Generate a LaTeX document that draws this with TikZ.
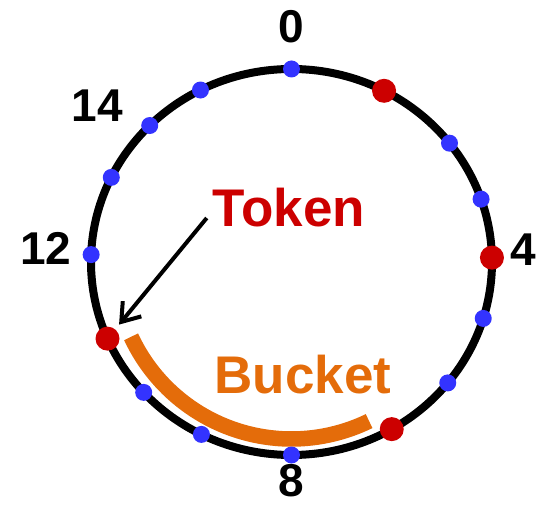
\documentclass[tikz,border=0pt]{standalone}
\usepackage{fontspec}
\setmainfont{Liberation Sans}
\usetikzlibrary{shapes.geometric, arrows.meta, positioning}
\definecolor{dotblue}{HTML}{3333FF}
\definecolor{tokred}{HTML}{CC0000}
\definecolor{bktorange}{HTML}{E46C0A}
\tikzstyle{bluedot} = [circle, fill=dotblue, minimum size=17pt, inner sep=0pt]
\tikzstyle{reddot} = [circle, fill=tokred, minimum size=24pt, inner sep=0pt]
\tikzstyle{num} = [font=\fontsize{46}{46}\selectfont\bfseries, inner sep=0pt]
\tikzstyle{word} = [font=\fontsize{53}{53}\selectfont\bfseries, inner sep=6pt]
\tikzstyle{ring} = [line width=8pt]
\tikzstyle{bucketarc} = [line width=15.5pt, draw=bktorange]
\tikzstyle{arrow} = [line width=4pt, -{Straight Barb[length=17pt, width=24pt]}, shorten >=6pt]

\begin{document}
\begin{tikzpicture}[x=1pt, y=1pt]

\useasboundingbox (-291.5,-243) rectangle (251.5,262);

\draw [ring] (0,0) ellipse [x radius=200.5, y radius=193];
\draw [bucketarc] (205:177) arc [start angle=205, end angle=296, radius=177];

\node (p0) [bluedot] at (90:200.5 and 193) {};
\node (p1) [reddot] at (62.5:200.5 and 193) {};
\node (p2) [bluedot] at (38:200.5 and 193) {};
\node (p3) [bluedot] at (19:200.5 and 193) {};
\node (p4) [reddot] at (1.3:200.5 and 193) {};
\node (p5) [bluedot] at (-17:200.5 and 193) {};
\node (p6) [bluedot] at (-38.8:200.5 and 193) {};
\node (p7) [reddot] at (-60:200.5 and 193) {};
\node (p8) [bluedot] at (-90:200.5 and 193) {};
\node (p9) [bluedot] at (-116.7:200.5 and 193) {};
\node (p10) [bluedot] at (-137.5:200.5 and 193) {};
\node (p11) [reddot] at (-156.6:200.5 and 193) {};
\node (p12) [bluedot] at (177.8:200.5 and 193) {};
\node (p13) [bluedot] at (154:200.5 and 193) {};
\node (p14) [bluedot] at (135:200.5 and 193) {};
\node (p15) [bluedot] at (117:200.5 and 193) {};

\node (lbl0) [num, above=17pt of p0] {0};
\node (lbl4) [num, right=6pt of p4, yshift=8pt] {4};
\node (lbl8) [num, below=0.5pt of p8] {8};
\node (lbl12) [num, left=11pt of p12, yshift=6pt] {12};
\node (lbl14) [num, left=18pt of p14, yshift=20pt] {14};

\node (token) [word, text=tokred] at (-2.5,54) {Token};
\node (bucket) [word, text=bktorange] at (11.5,-113) {Bucket};

\draw [arrow] ([yshift=-10pt]token.west) -- (p11);

\end{tikzpicture}
\end{document}
